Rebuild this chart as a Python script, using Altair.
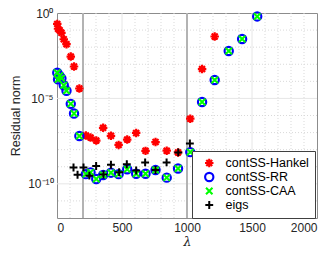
import altair as alt
import pandas as pd

series_names = ["contSS-Hankel", "contSS-RR", "contSS-CAA", "eigs"]

lam_ss = [2, 8, 20, 34, 52, 73, 106, 131, 172, 222, 258, 302, 355, 415, 474, 540,
          609, 681, 758, 844, 931, 1025, 1116, 1213, 1321, 1424, 1540]
hankel = [2.3e-1, 1.2e-1, 9.8e-2, 6.9e-2, 2.9e-2, 1.5e-2, 2.8e-3, 7.4e-4, 3.8e-5,
          6.8e-8, 5.1e-8, 3.4e-8, 1.9e-7, 6.5e-8, 1.9e-8, 3.9e-8, 9.5e-8, 8.5e-9,
          2.8e-8, 8.7e-9, 6.9e-9, 6.5e-7, 5.2e-4, 4.2e-2]
rr = [3.2e-4, 1.3e-4, 2.1e-4, 1.5e-4, 5.9e-5, 2.8e-5, 4.8e-6, 1.3e-6, 6.3e-8,
      3.7e-10, 4.7e-10, 1.9e-10, 3.3e-10, 4.5e-10, 3.7e-10, 7.1e-10, 3.9e-10, 3.9e-10,
      6.5e-10, 2.3e-10, 7.9e-10, 7.2e-9, 6.2e-6, 1.2e-4, 6.0e-3, 3.0e-2, 6.3e-1]
caa = [3.2e-4, 1.3e-4, 2.1e-4, 1.5e-4, 5.9e-5, 2.8e-5, 4.8e-6, 1.3e-6, 6.3e-8,
       3.7e-10, 4.7e-10, 1.9e-10, 3.3e-10, 4.5e-10, 3.7e-10, 7.1e-10, 3.9e-10, 3.9e-10,
       6.5e-10, 2.3e-10, 7.9e-10, 7.2e-9, 6.2e-6, 1.2e-4, 6.0e-3, 3.0e-2, 6.3e-1]
lam_eigs = [127, 158, 204, 249, 301, 357, 415, 478, 537, 609, 678, 758, 843, 933, 1022]
eigs = [9.1e-10, 3.4e-10, 9.1e-10, 3.0e-10, 1.1e-9, 3.5e-10, 1.3e-9, 4.8e-10,
        1.4e-9, 6.0e-10, 1.8e-9, 6.5e-10, 1.8e-9, 6.9e-9, 2.3e-8]

x_ticks = [0, 500, 1000, 1500, 2000]
x_minor = [100, 200, 300, 400, 600, 700, 800, 900, 1100, 1200, 1300, 1400,
           1600, 1700, 1800, 1900]
x_major = [500, 1000, 1500]
interval_edges = [200, 1000]
y_ticks = [1e-10, 1e-5, 1]
y_minor = [1e-11, 1e-9, 1e-8, 1e-7, 1e-6, 1e-4, 1e-3, 1e-2, 1e-1]
y_major = [1e-10, 1e-5]

rows = []
for name, xs, ys in [("contSS-Hankel", lam_ss, hankel), ("contSS-RR", lam_ss, rr),
                     ("contSS-CAA", lam_ss, caa), ("eigs", lam_eigs, eigs)]:
    for l, v in zip(xs, ys):
        rows.append({"lam": l, "res": v, "method": name})
df = pd.DataFrame(rows)

star = "M-1,0L1,0M0,-1L0,1M-0.7,-0.7L0.7,0.7M-0.7,0.7L0.7,-0.7"
xmark = "M-0.8,-0.8L0.8,0.8M-0.8,0.8L0.8,-0.8"
plus = "M-1,0L1,0M0,-1L0,1"

FONT = "Liberation Sans"

xenc = alt.X("lam:Q", scale=alt.Scale(domain=[0, 2000], nice=False, zero=False),
             axis=alt.Axis(values=x_ticks, format="d", title="λ", grid=False, ticks=False,
                           domain=False, labelFontSize=12, labelPadding=4, titleFontSize=12.5,
                           titleFontStyle="italic", titleFontWeight="normal",
                           titlePadding=2, labelColor="#262626", titleColor="#262626",
                           labelFont=FONT, titleFont="DejaVu Serif"))
yenc = alt.Y("res:Q", scale=alt.Scale(type="log", domain=[1e-12, 1], nice=False),
             axis=alt.Axis(values=y_ticks, title="Residual norm", grid=False, ticks=False,
                           domain=False, labelFontSize=12, labelPadding=4,
                           labelExpr="datum.value >= 0.5 ? '10⁰' : (datum.value > 1e-7 ? '10⁻⁵' : '10⁻¹⁰')",
                           titleFontSize=12.5, titleFontWeight="normal", titlePadding=5,
                           labelColor="#262626", titleColor="#262626",
                           labelFont=FONT, titleFont=FONT))

xminor_l = alt.Chart(pd.DataFrame({"lam": x_minor})).mark_rule(
    color="#d9d9d9", strokeDash=[1, 2], strokeWidth=1).encode(x=xenc)
yminor_l = alt.Chart(pd.DataFrame({"res": y_minor})).mark_rule(
    color="#d9d9d9", strokeDash=[1, 2], strokeWidth=1).encode(y=yenc)
xmajor_l = alt.Chart(pd.DataFrame({"lam": x_major})).mark_rule(
    color="#e6e6e6", strokeWidth=1).encode(x=xenc)
ymajor_l = alt.Chart(pd.DataFrame({"res": y_major})).mark_rule(
    color="#e6e6e6", strokeWidth=1).encode(y=yenc)
edges_l = alt.Chart(pd.DataFrame({"lam": interval_edges})).mark_rule(
    color="#b3b3b3", strokeWidth=2).encode(x=xenc)

points = alt.Chart(df).mark_point(filled=False, opacity=1).encode(
    x=xenc,
    y=yenc,
    color=alt.Color("method:N", sort=series_names,
                    scale=alt.Scale(domain=series_names,
                                    range=["#ff0000", "#0000ff", "#00ff00", "#000000"]),
                    legend=alt.Legend(title=None, orient="none", legendX=135, legendY=138,
                                      fillColor="white", strokeColor="#404040",
                                      padding=6, symbolOffset=5, labelOffset=10,
                                      labelFontSize=12.5, labelFont=FONT,
                                      labelColor="#000000", rowPadding=1, clipHeight=12,
                                      symbolSize=64, symbolStrokeWidth=2)),
    shape=alt.Shape("method:N", sort=series_names,
                    scale=alt.Scale(domain=series_names,
                                    range=[star, "circle", xmark, plus])),
    size=alt.Size("method:N", scale=alt.Scale(domain=series_names, range=[72, 62, 22, 72]),
                  legend=None),
    strokeWidth=alt.StrokeWidth("method:N",
                                scale=alt.Scale(domain=series_names, range=[2.2, 2, 2, 1.6]),
                                legend=None),
)

chart = alt.layer(xminor_l, yminor_l, xmajor_l, ymajor_l, edges_l, points).properties(
    width=260, height=205,
    padding={"left": 49, "top": 5, "right": 8, "bottom": 31},
    autosize=alt.AutoSizeParams(type="none"),
).configure_view(stroke="#8c8c8c", strokeWidth=1)

chart.save("out.html", embed_options={"renderer": "svg", "actions": False})
